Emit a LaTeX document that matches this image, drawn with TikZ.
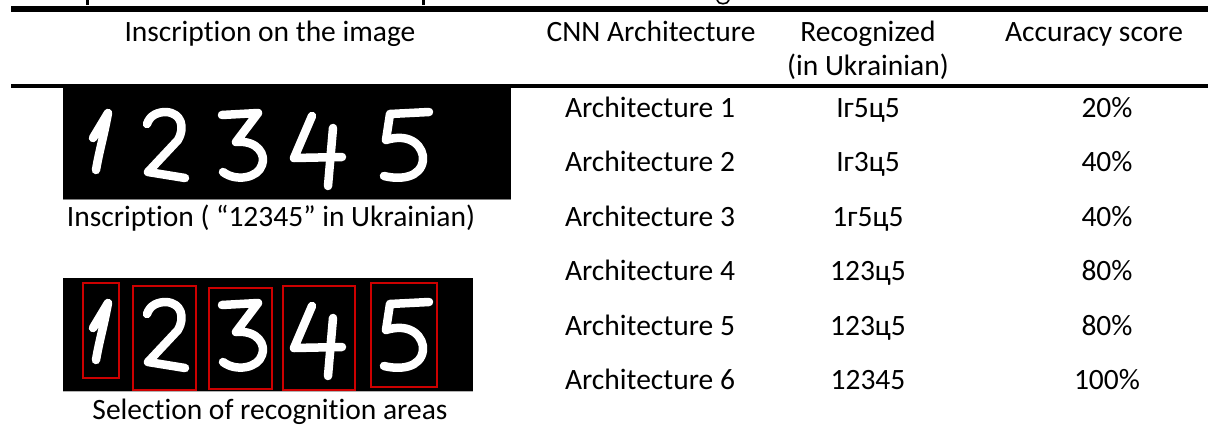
\documentclass[tikz,border=0pt]{standalone}
\usepackage{fontspec}
\setmainfont{Carlito}[Ligatures=NoCommon]
\definecolor{boxred}{RGB}{205,0,0}
\newcommand\handdigits{%
  % 1
  \draw[pen] (93,138) -- (108,113) .. controls (104,135) and (99,152) .. (96,170);
  % 2
  \draw[pen] (147,124) .. controls (150,115) and (158,112) .. (166,112)
     .. controls (182,113) and (185,128) .. (178,140)
     -- (148,172) -- (185,178);
  % 3
  \draw[pen] (222,115) -- (258,113) -- (236,142)
     .. controls (258,140) and (266,155) .. (262,165)
     .. controls (258,178) and (236,182) .. (223,172);
  % 4
  \draw[pen] (312,116) -- (294,158) -- (342,157);
  \draw[pen] (333,128) -- (328,186);
  % 5
  \draw[pen] (429,112) -- (390,114) -- (386,140)
     .. controls (412,132) and (424,148) .. (423,160)
     .. controls (421,178) and (400,180) .. (384,176);
}
\begin{document}
\begin{tikzpicture}[x=1pt,y=-1pt,
  cell/.style={font=\fontsize{29.5}{36}\selectfont, anchor=base, inner sep=0pt},
  redbox/.style={draw=boxred, line width=2pt},
  pen/.style={draw=white, line width=8.5pt, line cap=round, line join=round},
  rule/.style={fill=black}]
\useasboundingbox (0,0) rectangle (1208,426);
% cut-off descenders of the line above
\fill (86,0) rectangle (89,5);
\fill (422,0) rectangle (425,5);
\draw[line width=1.6pt] (717,0) .. controls (718,5) and (728,5) .. (729,0);
% rules
\fill[rule] (11,6) rectangle (1208,12);
\fill[rule] (11,84) rectangle (1208,88);
% header
\node[cell] (h1) at (270,41) {Inscription on the image};
\node[cell] (h2) at (651,41) {CNN Architecture};
\node[cell] (h3) at (868,41) {Recognized};
\node[cell] (h3b) at (868,75) {(in Ukrainian)};
\node[cell] (h4) at (1094,41) {Accuracy score};
% image 1
\fill[black] (63,88) rectangle (511,199);
\draw[gray, line width=1pt] (63,199.5) -- (511,199.5);
\handdigits
\node[cell] (cap1) at (271,226) {Inscription ( “12345” in Ukrainian)};
% image 2
\fill[black] (63,278) rectangle (473,391);
\draw[gray!60, line width=1pt] (63,391.5) -- (473,391.5);
\begin{scope}[shift={(0,190)}]
  \handdigits
\end{scope}
\draw[redbox] (83,283) rectangle (119,378);
\draw[redbox] (133,286) rectangle (196,390);
\draw[redbox] (209,288) rectangle (272,389);
\draw[redbox] (283,286) rectangle (355,390);
\draw[redbox] (371,283) rectangle (437,387);
\node[cell] (cap2) at (270,419) {Selection of recognition areas};
% body rows
\node[cell] (a1) at (650,117) {Architecture 1};
\node[cell] (r1) at (868,117) {Іг5ц5};
\node[cell] (s1) at (1107,117) {20\%};
\node[cell] (a2) at (650,171.5) {Architecture 2};
\node[cell] (r2) at (868,171.5) {Іг3ц5};
\node[cell] (s2) at (1107,171.5) {40\%};
\node[cell] (a3) at (650,226) {Architecture 3};
\node[cell] (r3) at (868,226) {1г5ц5};
\node[cell] (s3) at (1107,226) {40\%};
\node[cell] (a4) at (650,280.5) {Architecture 4};
\node[cell] (r4) at (868,280.5) {123ц5};
\node[cell] (s4) at (1107,280.5) {80\%};
\node[cell] (a5) at (650,335) {Architecture 5};
\node[cell] (r5) at (868,335) {123ц5};
\node[cell] (s5) at (1107,335) {80\%};
\node[cell] (a6) at (650,389.5) {Architecture 6};
\node[cell] (r6) at (868,389.5) {12345};
\node[cell] (s6) at (1107,389.5) {100\%};
\end{tikzpicture}
\end{document}
